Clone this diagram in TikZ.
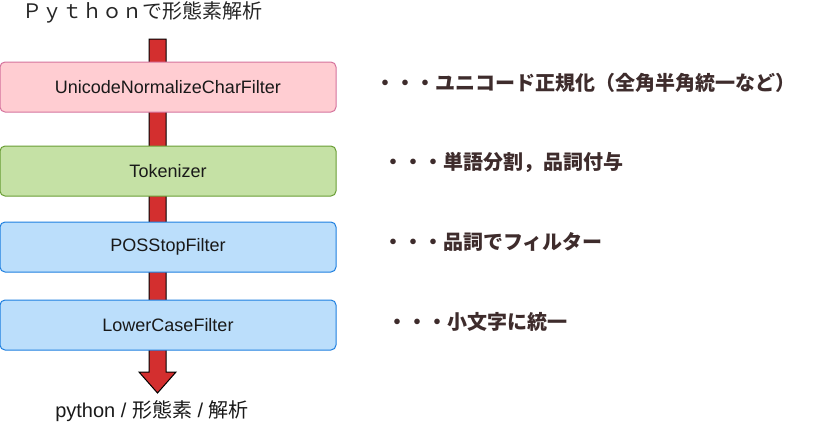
\documentclass[tikz,border=0pt]{standalone}
\usepackage{fontspec}
\setmainfont{Liberation Sans}
\newfontfamily\cjk{Noto Sans CJK JP}
\definecolor{pinkfill}{HTML}{FFCDD2}
\definecolor{pinkline}{HTML}{D5739D}
\definecolor{greenfill}{HTML}{C5E1A5}
\definecolor{greenline}{HTML}{6A9E35}
\definecolor{bluefill}{HTML}{BBDEFB}
\definecolor{blueline}{HTML}{1E7FE0}
\definecolor{arrowred}{HTML}{D32F2F}
\definecolor{notebrown}{HTML}{3E2C2C}
\tikzset{
  filterbox/.style={draw, rounded corners=5pt, line width=1pt, minimum width=336pt, minimum height=50pt, inner sep=0pt, font=\fontsize{18}{20}\selectfont, text=black!90},
  note/.style={anchor=west, inner sep=0pt, text=notebrown, font=\cjk\bfseries\fontsize{20}{22}\selectfont}
}
\begin{document}
\begin{tikzpicture}[x=1pt,y=-1pt]
\useasboundingbox (0,0) rectangle (838,440);

\node (title) at (142,12) [inner sep=0pt, font=\cjk\fontsize{20}{22}\selectfont, text=black!85] {Ｐｙｔｈｏｎで形態素解析};

% block arrow behind the filters
\coordinate (arrowtop) at (157.5,39);
\coordinate (arrowtip) at (157.5,393);
\filldraw[fill=arrowred, draw=black, line width=1pt, line join=miter]
  ([xshift=-8.5pt]arrowtop) -- ([xshift=-8.5pt,yshift=21pt]arrowtip) -- ([xshift=-18.5pt,yshift=21pt]arrowtip)
  -- (arrowtip) -- ([xshift=18.5pt,yshift=21pt]arrowtip) -- ([xshift=8.5pt,yshift=21pt]arrowtip)
  -- ([xshift=8.5pt]arrowtop) -- cycle;

\node (unicode) at (168,87) [filterbox, fill=pinkfill, draw=pinkline] {UnicodeNormalizeCharFilter};
\node (tokenizer) at (168,171) [filterbox, fill=greenfill, draw=greenline] {Tokenizer};
\node (posstop) at (168,247) [filterbox, fill=bluefill, draw=blueline] {POSStopFilter};
\node (lowercase) at (168,325) [filterbox, fill=bluefill, draw=blueline] {LowerCaseFilter};

\node (result) at (152,411) [inner sep=0pt, font=\fontsize{20}{22}\selectfont, text=black!90] {python / {\cjk 形態素} / {\cjk 解析}};

\node (unicodenote) at (375,83) [note] {・・・ユニコード正規化（全角半角統一など）};
\node (tokenizernote) at (383,162) [note] {・・・単語分割，品詞付与};
\node (posstopnote) at (383,242) [note] {・・・品詞でフィルター};
\node (lowercasenote) at (387,322) [note] {・・・小文字に統一};

\end{tikzpicture}
\end{document}
